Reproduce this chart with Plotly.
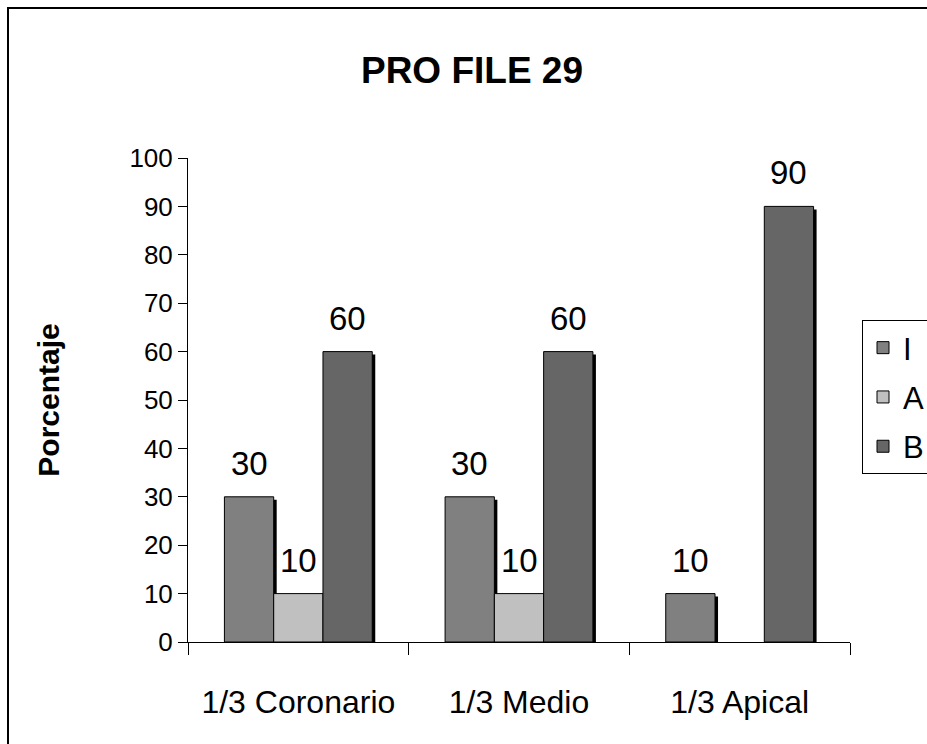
import plotly.graph_objects as go

# Data
categories = ["1/3 Coronario", "1/3 Medio", "1/3 Apical"]
series_names = ["I", "A", "B"]
values_I = [30, 30, 10]
values_A = [10, 10, None]
values_B = [60, 60, 90]
series_values = [values_I, values_A, values_B]
colors = ["#808080", "#c0c0c0", "#666666"]
y_ticks = list(range(0, 101, 10))

# Layout geometry
W, H = 927, 744
margin = dict(l=188, r=77, t=158, b=102, pad=0, autoexpand=False)
plot_w = W - margin["l"] - margin["r"]
plot_h = H - margin["t"] - margin["b"]
bargap = 0.33
font_family = "Liberation Sans, Arial, sans-serif"

# Drop-shadow offset (pixels) converted to axis units
shadow_px = 3
dx = shadow_px * len(categories) / plot_w
dy = shadow_px * 100 / plot_h

fig = go.Figure()

# Shadow bars on hidden base axes, shifted right/down
for name, vals in zip(series_names, series_values):
    fig.add_trace(go.Bar(
        x=categories, y=vals, name=name, showlegend=False,
        marker=dict(color="#000000", line=dict(width=0)),
        hoverinfo="skip", xaxis="x", yaxis="y",
    ))

# Main bars on overlaying visible axes
for name, vals, col in zip(series_names, series_values, colors):
    fig.add_trace(go.Bar(
        x=categories, y=vals, name=name, legendgroup=name,
        marker=dict(color=col, line=dict(color="#000000", width=1)),
        xaxis="x2", yaxis="y2",
    ))

# Value labels above each bar
bar_w = (1 - bargap) / len(series_names)
annotations = []
for k, vals in enumerate(series_values):
    for i, v in enumerate(vals):
        if v is None:
            continue
        annotations.append(dict(
            x=i + (k - (len(series_names) - 1) / 2) * bar_w, y=v,
            xref="x2", yref="y2", text=str(v), showarrow=False,
            yanchor="bottom", yshift=13,
            font=dict(family=font_family, size=33, color="#000000"),
        ))

fig.update_layout(
    width=W, height=H,
    margin=margin,
    paper_bgcolor="white", plot_bgcolor="white",
    barmode="group", bargap=bargap, bargroupgap=0,
    font=dict(family=font_family, color="#000000"),
    title=dict(
        text="<b>PRO FILE 29</b>", x=472 / W, xanchor="center",
        y=1 - 70 / H, yanchor="middle",
        font=dict(family=font_family, size=37, color="#000000"),
    ),
    xaxis=dict(
        type="category", range=[-0.5 - dx, len(categories) - 0.5 - dx],
        visible=False, fixedrange=True,
    ),
    yaxis=dict(range=[dy, 100 + dy], visible=False, fixedrange=True),
    xaxis2=dict(
        type="category", overlaying="x", anchor="y2", side="bottom",
        range=[-0.5, len(categories) - 0.5],
        showline=True, linecolor="#000000", linewidth=1,
        ticks="outside", tickson="boundaries", ticklen=12,
        tickcolor="#000000", tickwidth=1, ticklabelstandoff=32,
        tickfont=dict(family=font_family, size=32, color="#000000"),
        showgrid=False, zeroline=False,
    ),
    yaxis2=dict(
        overlaying="y", anchor="x2", side="left",
        range=[0, 100], tickvals=y_ticks,
        showline=True, linecolor="#000000", linewidth=1,
        ticks="outside", ticklen=9, tickcolor="#000000", tickwidth=1,
        tickfont=dict(family=font_family, size=26, color="#000000"),
        showgrid=False, zeroline=False,
        title=dict(
            text="<b>Porcentaje</b>", standoff=60,
            font=dict(family=font_family, size=30, color="#000000"),
        ),
    ),
    legend=dict(
        x=(862 - margin["l"]) / plot_w, y=(H - margin["b"] - 320) / plot_h,
        xanchor="left", yanchor="top",
        bordercolor="#000000", borderwidth=1, bgcolor="white",
        font=dict(family=font_family, size=31, color="#000000"),
        traceorder="grouped", tracegroupgap=6,
    ),
    annotations=annotations,
    shapes=[dict(
        type="rect", xref="paper", yref="paper",
        x0=(8 - margin["l"]) / plot_w, x1=(W + 20 - margin["l"]) / plot_w,
        y0=-(margin["b"] + 20) / plot_h, y1=(H - margin["b"] - 8) / plot_h,
        line=dict(color="#000000", width=2), layer="below",
    )],
)

fig.write_html("out.html")
